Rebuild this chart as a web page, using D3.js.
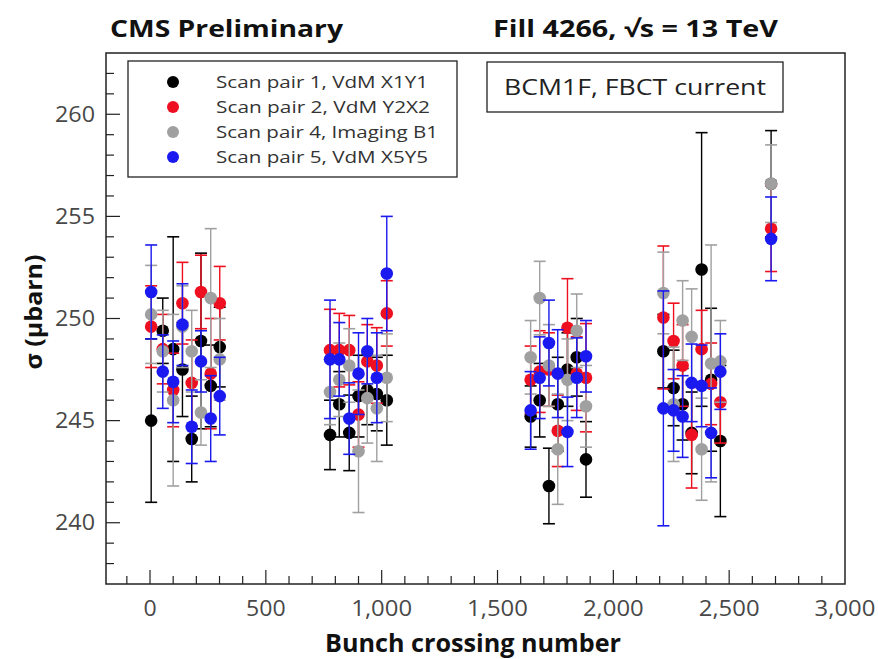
<!DOCTYPE html>
<html><head><meta charset="utf-8">
<script src="https://cdn.jsdelivr.net/npm/d3@7"></script>
<style>body{margin:0;background:#fff}text{font-family:"Open Sans",sans-serif}</style>
</head><body>
<svg id="c" width="878" height="659"></svg>
<script>
const bunches = [5,55,100,140,180,220,262,301, 777,817,860,900,938,979,1022, 1643,1682,1722,1760,1802,1842,1882, 2216,2260,2299,2338,2381,2422,2462, 2681];
const seriesNames = ["Scan pair 1, VdM X1Y1","Scan pair 2, VdM Y2X2","Scan pair 4, Imaging B1","Scan pair 5, VdM X5Y5"];
const seriesColors = ["#000000","#ee1020","#a0a0a0","#1a1af0"];
const blackVal = [245.0,249.4,248.5,247.5,244.1,248.9,246.7,248.6, 244.3,245.8,244.4,246.2,246.5,246.3,246.0, 245.2,246.0,241.8,245.8,247.5,248.1,243.1, 248.4,246.6,245.8,244.4,252.4,247.0,244.0, 256.6];
const blackErr = [4.0,1.6,5.5,2.3,2.1,4.3,2.0,1.95, 1.7,1.6,1.85,2.0,1.7,1.8,2.2, 1.5,1.8,1.85,2.3,1.8,1.9,1.85, 1.8,1.85,1.75,2.0,6.7,3.5,3.7, 2.6];
const redVal = [249.6,248.5,246.5,250.75,246.85,251.3,247.3,250.75, 248.45,248.45,248.45,245.3,247.9,247.7,250.25, 247.0,247.4,247.5,244.5,249.55,247.3,247.1, 250.05,248.9,247.7,244.3,248.5,246.8,245.9, 254.4];
const redErr = [2.0,1.7,1.8,2.0,2.1,1.8,2.7,1.8, 2.0,1.8,1.7,1.6,1.8,1.85,1.6, 1.65,2.0,1.8,1.75,2.4,1.8,2.65, 3.5,1.85,2.0,2.6,1.9,2.0,2.0, 2.1];
const grayVal = [250.2,248.4,246.0,249.6,248.4,245.4,251.0,248.0, 246.4,247.0,247.7,243.5,246.1,245.6,247.1, 248.1,251.0,247.7,243.6,247.0,249.4,245.7, 251.25,245.8,249.9,249.1,243.6,247.8,247.9, 256.6];
const grayErr = [2.4,2.0,4.2,2.0,2.0,1.6,3.4,2.0, 1.6,1.8,1.8,3.0,2.2,2.6,2.15, 1.8,1.8,2.0,2.7,2.0,1.8,2.0, 2.0,2.8,1.95,2.35,2.5,5.8,2.0, 1.9];
const blueVal = [251.3,247.4,246.9,249.7,244.7,247.9,245.1,246.2, 248.0,248.0,245.1,247.3,248.4,247.1,252.2, 245.5,247.1,248.8,247.3,244.45,247.1,248.15, 245.6,245.5,245.2,246.85,246.7,244.4,247.4, 253.9];
const blueErr = [2.3,1.8,2.0,2.0,1.8,1.5,2.1,1.9, 2.9,1.8,1.75,2.0,1.6,2.2,2.8, 1.9,2.0,2.1,2.15,1.7,1.95,1.75, 5.75,2.0,2.0,1.9,2.0,2.2,1.85, 2.05];
const xTicks = [0,500,1000,1500,2000,2500,3000];
const yTicks = [240,245,250,255,260];

const svg = d3.select("#c");
const L=106, R=845, T=53, B=584;
const x = d3.scaleLinear().domain([-190,3000]).range([L,R]);
const y = d3.scaleLinear().domain([237,263]).range([B,T]);

svg.append("rect").attr("x",L).attr("y",T).attr("width",R-L).attr("height",B-T)
  .attr("fill","none").attr("stroke","#222").attr("stroke-width",1.5);

const xMinor = d3.range(-100,3000,100);
svg.append("g").selectAll("line").data(xMinor).join("line")
  .attr("x1",d=>x(d)).attr("x2",d=>x(d)).attr("y1",B).attr("y2",d=>B-(d%500===0?14:8))
  .attr("stroke","#222").attr("stroke-width",1.2);
const yMinor = d3.range(238,263,1);
svg.append("g").selectAll("line").data(yMinor).join("line")
  .attr("y1",d=>y(d)).attr("y2",d=>y(d)).attr("x1",L).attr("x2",d=>L+(d%5===0?14:8))
  .attr("stroke","#222").attr("stroke-width",1.2);

const fmt = d3.format(",");
const labW = s => s.replace(/,/g,"").length*13.2 + (s.includes(",")?8:0);
svg.append("g").selectAll("text").data(xTicks).join("text")
  .attr("x",d=>x(d)).attr("y",616).attr("text-anchor","middle")
  .attr("font-size",21).attr("fill","#484848")
  .attr("textLength",d=>labW(fmt(d))).attr("lengthAdjust","spacingAndGlyphs").text(d=>fmt(d));
svg.append("g").selectAll("text").data(yTicks).join("text")
  .attr("x",95).attr("y",d=>y(d)+7.5).attr("text-anchor","end")
  .attr("font-size",21).attr("fill","#484848")
  .attr("textLength",40).attr("lengthAdjust","spacingAndGlyphs").text(d=>d);

svg.append("text").attr("x",473).attr("y",652).attr("text-anchor","middle")
  .attr("font-size",25).attr("font-weight","bold").attr("fill","#111")
  .attr("textLength",296).attr("lengthAdjust","spacingAndGlyphs").text("Bunch crossing number");
svg.append("text").attr("transform","translate(42,312) rotate(-90)").attr("text-anchor","middle")
  .attr("font-size",24).attr("font-weight","bold").attr("fill","#111")
  .attr("textLength",115).attr("lengthAdjust","spacingAndGlyphs").text("σ (μbarn)");

svg.append("text").attr("x",110).attr("y",37).attr("font-size",23).attr("font-weight","bold").attr("fill","#111")
  .attr("textLength",233).attr("lengthAdjust","spacingAndGlyphs").text("CMS Preliminary");
svg.append("text").attr("x",493).attr("y",37).attr("font-size",23).attr("font-weight","bold").attr("fill","#111")
  .attr("textLength",285).attr("lengthAdjust","spacingAndGlyphs").text("Fill 4266, √s = 13 TeV");

const series = [
  {vals:blackVal, errs:blackErr},
  {vals:redVal, errs:redErr},
  {vals:grayVal, errs:grayErr},
  {vals:blueVal, errs:blueErr}
];
const plot = svg.append("g");
series.forEach((s,si)=>{
  const col = seriesColors[si];
  const pts = bunches.map((b,i)=>({b, v:s.vals[i], e:s.errs[i]})).filter(p=>p.v!=null);
  const g = plot.append("g");
  g.selectAll("line.v").data(pts).join("line").attr("class","v")
    .attr("x1",d=>x(d.b)).attr("x2",d=>x(d.b)).attr("y1",d=>y(d.v-d.e)).attr("y2",d=>y(d.v+d.e))
    .attr("stroke",col).attr("stroke-width",1.4);
  [-1,1].forEach(sg=>{
    g.selectAll("line.c"+sg).data(pts).join("line").attr("class","c"+sg)
      .attr("x1",d=>x(d.b)-6).attr("x2",d=>x(d.b)+6).attr("y1",d=>y(d.v+sg*d.e)).attr("y2",d=>y(d.v+sg*d.e))
      .attr("stroke",col).attr("stroke-width",1.6);
  });
  g.selectAll("circle").data(pts).join("circle")
    .attr("cx",d=>x(d.b)).attr("cy",d=>y(d.v)).attr("r",6.3).attr("fill",col);
});

// legend
const legW = [212,214,222,212];
svg.append("rect").attr("x",128).attr("y",61).attr("width",329).attr("height",116)
  .attr("fill","#fff").attr("stroke","#222").attr("stroke-width",1.3);
seriesNames.forEach((n,i)=>{
  svg.append("circle").attr("cx",173).attr("cy",82+25*i).attr("r",6).attr("fill",seriesColors[i]);
  svg.append("text").attr("x",216).attr("y",88+25*i).attr("font-size",17).attr("fill","#333")
    .attr("textLength",legW[i]).attr("lengthAdjust","spacingAndGlyphs").text(n);
});
svg.append("rect").attr("x",487).attr("y",62).attr("width",296).attr("height",50)
  .attr("fill","#fff").attr("stroke","#222").attr("stroke-width",1.3);
svg.append("text").attr("x",635).attr("y",95).attr("text-anchor","middle").attr("font-size",21).attr("fill","#222")
  .attr("textLength",262).attr("lengthAdjust","spacingAndGlyphs").text("BCM1F, FBCT current");
</script>
</body></html>
